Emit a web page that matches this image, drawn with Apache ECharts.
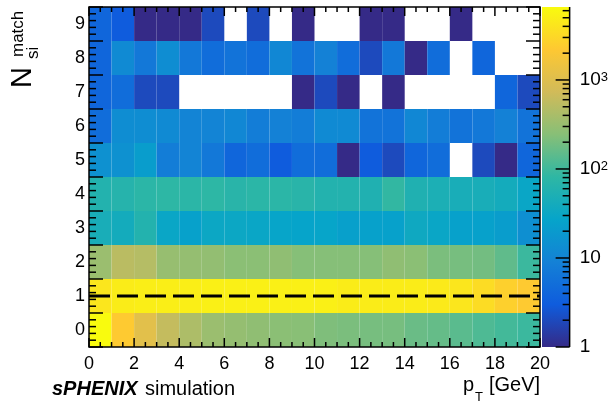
<!DOCTYPE html>
<html><head><meta charset="utf-8">
<script src="https://cdn.jsdelivr.net/npm/echarts@6/dist/echarts.min.js"></script>
<style>html,body{margin:0;padding:0;background:#fff}#c{width:611px;height:409px}</style>
</head><body><div id="c"></div>
<script>
// N_si^match row labels (bottom to top)
const nsiLabels = ['0','1','2','3','4','5','6','7','8','9'];
// counts per pT bin (0-1, 1-2, ..., 19-20 GeV) for each N_si^match value
const row0 = [6600,2300,1100,600,430,330,300,280,260,250,220,210,200,200,170,160,140,120,105,95];
const row1 = [4200,4800,5000,5000,5000,5200,5200,5200,5200,5200,5200,4800,4800,4800,4800,4600,4200,3400,2600,2300];
const row2 = [330,520,480,310,300,290,260,260,280,240,240,240,240,280,260,210,200,190,150,95];
const row3 = [45,40,60,30,25,32,32,30,28,27,28,24,25,25,35,30,25,25,22,14];
const row4 = [60,65,75,80,75,80,70,75,75,70,60,60,55,85,55,50,45,45,40,30];
const row5 = [15,15,22,8,10,7,4,5,3,5,5,1,3,2,4,5,0,2,1,4];
const row6 = [5,13,13,12,10,10,11,8,9,8,12,12,6,6,11,8,6,7,9,6];
const row7 = [4,5,2,2,0,0,0,0,0,1,2,1,0,1,0,0,0,0,4,2];
const row8 = [4,12,7,13,7,5,6,5,11,6,9,5,2,7,1,5,0,4,0,0];
const row9 = [4,3,1,1,1,2,0,2,0,1,0,0,1,1,0,0,1,0,0,0];
const zMin = 1, zMax = 6600;
const cbMajor = [1,10,100,1000];
const cbMinor = [2,3,4,5,6,7,8,9,20,30,40,50,60,70,80,90,200,300,400,500,600,700,800,900,2000,3000,4000,5000,6000];
const cutLine = [[0,1],[20,1]];

const xMin = 0, xMax = 20, xStep = 2, xMinorSplit = 4;
const yMin = -0.5, yMax = 9.5, yStep = 1, yMinorSplit = 5;

const bird = ['#352a87','#0f5cdd','#1481d6','#06a4ca','#2eb7a4','#87bf77','#d1bb59','#fec832','#f9fb0e'];
const FONT = '"Liberation Sans", Arial, Helvetica, sans-serif';

const rows = [row0,row1,row2,row3,row4,row5,row6,row7,row8,row9];
const cells = [];
rows.forEach((r, y) => r.forEach((v, x) => { if (v > 0) cells.push([x, y, Math.log10(v)]); }));

// ROOT-style ticks on all four sides of the frame (axis values)
const frameTicks = [];
for (let i = 0; i <= (xMax - xMin) / xStep * xMinorSplit; i++) {
  frameTicks.push([0, xMin + i * xStep / xMinorSplit, i % xMinorSplit === 0 ? 9 : 5]);
}
for (let i = 0; i <= (yMax - yMin) / yStep * yMinorSplit; i++) {
  frameTicks.push([1, yMin + i * yStep / yMinorSplit, i % yMinorSplit === 0 ? 14 : 7]);
}

const chart = echarts.init(document.getElementById('c'));

chart.setOption({
  animation:false,
  backgroundColor:'#fff',
  grid:[
    {left:89, right:71, top:7, bottom:62, show:false},
    {left:542, width:30, top:7, bottom:62, show:false}
  ],
  xAxis:[
    {gridIndex:0, type:'value', min:xMin, max:xMax, interval:xStep, position:'bottom',
      axisLine:{show:false, onZero:false}, axisTick:{show:false}, splitLine:{show:false},
      axisLabel:{show:true, fontSize:18, color:'#000', fontFamily:FONT, margin:8}},
    {gridIndex:1, type:'value', min:0, max:1, show:false}
  ],
  yAxis:[
    {gridIndex:0, type:'value', min:yMin, max:yMax, interval:yStep, position:'left',
      axisLine:{show:false, onZero:false}, axisTick:{show:false}, axisLabel:{show:false}, splitLine:{show:false}},
    {gridIndex:0, type:'category', data:nsiLabels, position:'left', boundaryGap:true,
      axisLine:{show:false, onZero:false}, axisTick:{show:false}, splitLine:{show:false},
      axisLabel:{fontSize:18, color:'#000', fontFamily:FONT, margin:4}},
    {gridIndex:1, type:'log', logBase:10, min:zMin, max:zMax, position:'right',
      axisLine:{show:false, onZero:false}, axisTick:{show:false}, splitLine:{show:false},
      axisLabel:{margin:10, color:'#000', fontSize:19, fontFamily:FONT,
        formatter: v => {
          const e = Math.round(Math.log10(v));
          if (Math.abs(Math.log10(v) - e) > 1e-6) return '';
          if (e === 0) return '1';
          if (e === 1) return '10';
          return '10{sup|' + e + '}';
        },
        rich:{sup:{fontSize:13, verticalAlign:'top', fontFamily:FONT, color:'#000'}}}}
  ],
  visualMap:{type:'continuous', show:false, min:0, max:Math.log10(zMax), dimension:2, seriesIndex:0,
    inRange:{color:bird}},
  series:[
    {type:'custom', xAxisIndex:0, yAxisIndex:0, data:cells, z:2,
      renderItem:(params, api) => {
        const x = api.value(0), y = api.value(1);
        const p0 = api.coord([x, y + 0.5]);
        const p1 = api.coord([x + 1, y - 0.5]);
        return {type:'rect', shape:{x:p0[0], y:p0[1], width:p1[0]-p0[0], height:p1[1]-p0[1]},
          style:{fill:api.visual('color')}};
      }},
    {type:'line', xAxisIndex:0, yAxisIndex:0, data:cutLine, symbol:'none', z:5,
      lineStyle:{color:'#000', width:3, type:[21,7]}},
    {type:'custom', xAxisIndex:0, yAxisIndex:0, data:frameTicks, z:8,
      renderItem:(params, api) => {
        const kind = api.value(0), v = api.value(1), len = api.value(2);
        const st = {stroke:'#000', lineWidth:1.5};
        if (kind === 0) {
          const b = api.coord([v, yMin]), t = api.coord([v, yMax]);
          return {type:'group', children:[
            {type:'line', shape:{x1:b[0], y1:b[1], x2:b[0], y2:b[1]-len}, style:st},
            {type:'line', shape:{x1:t[0], y1:t[1], x2:t[0], y2:t[1]+len}, style:st}]};
        }
        const l = api.coord([xMin, v]), r = api.coord([xMax, v]);
        return {type:'group', children:[
          {type:'line', shape:{x1:l[0], y1:l[1], x2:l[0]+len, y2:l[1]}, style:st},
          {type:'line', shape:{x1:r[0], y1:r[1], x2:r[0]-len, y2:r[1]}, style:st}]};
      }},
    {type:'custom', xAxisIndex:0, yAxisIndex:0, data:[[xMin, yMin]], z:9,
      renderItem:(params, api) => {
        const a = api.coord([xMin, yMax]), b = api.coord([xMax, yMin]);
        return {type:'rect', shape:{x:a[0], y:a[1], width:b[0]-a[0], height:b[1]-a[1]},
          style:{fill:'none', stroke:'#000', lineWidth:1.5}};
      }},
    {type:'custom', xAxisIndex:1, yAxisIndex:2, data:[[0, zMin]], z:2,
      renderItem:(params, api) => {
        const a = api.coord([0, zMin]);
        const b = api.coord([1, zMax]);
        return {type:'rect', shape:{x:a[0], y:b[1], width:b[0]-a[0], height:a[1]-b[1]},
          style:{fill:new echarts.graphic.LinearGradient(0,1,0,0,
            bird.map((c,i)=>({offset:i/(bird.length-1), color:c})))}};
      }},
    {type:'custom', xAxisIndex:1, yAxisIndex:2, z:6,
      data:cbMajor.map(v=>[1,v,14]).concat(cbMinor.map(v=>[1,v,7])),
      renderItem:(params, api) => {
        const p = api.coord([api.value(0), api.value(1)]);
        const len = api.value(2);
        return {type:'line', shape:{x1:p[0]-len, y1:p[1], x2:p[0], y2:p[1]},
          style:{stroke:'#000', lineWidth:1.5}};
      }},
    {type:'custom', xAxisIndex:1, yAxisIndex:2, z:7, data:[[1, zMin]],
      renderItem:(params, api) => {
        const a = api.coord([1, zMin]), b = api.coord([1, zMax]);
        return {type:'line', shape:{x1:a[0], y1:a[1], x2:b[0], y2:b[1]},
          style:{stroke:'#000', lineWidth:1.5}};
      }}
  ],
  graphic:[
    {type:'text', x:52, y:389, style:{text:'sPHENIX', font:'italic bold 20px ' + FONT, fill:'#000', verticalAlign:'middle'}},
    {type:'text', x:145, y:389, style:{text:'simulation', font:'20px ' + FONT, fill:'#000', verticalAlign:'middle'}},
    {type:'text', x:463, y:385, style:{text:'p', font:'20px ' + FONT, fill:'#000', verticalAlign:'middle'}},
    {type:'text', x:475, y:397, style:{text:'T', font:'13px ' + FONT, fill:'#000', verticalAlign:'middle'}},
    {type:'text', x:489, y:385, style:{text:'[GeV]', font:'20px ' + FONT, fill:'#000', verticalAlign:'middle'}},
    {type:'group', x:32, y:88, rotation:Math.PI/2, children:[
      {type:'text', x:0, y:-9, style:{text:'N', font:'29px ' + FONT, fill:'#000', verticalAlign:'middle'}},
      {type:'text', x:31, y:-14, style:{text:'match', font:'17px ' + FONT, fill:'#000', verticalAlign:'middle'}},
      {type:'text', x:29, y:1, style:{text:'si', font:'17px ' + FONT, fill:'#000', verticalAlign:'middle'}}
    ]}
  ]
});
</script></body></html>
